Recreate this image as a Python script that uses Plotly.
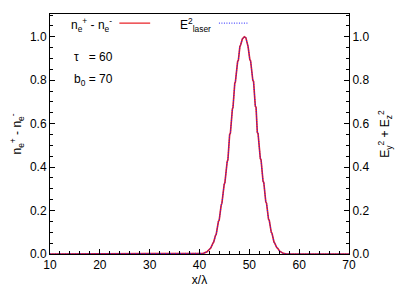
import plotly.graph_objects as go

# pulse profile (x in units of lambda)
x_vals = [10.0, 40.0, 40.8, 41.5, 42.1, 42.25, 42.7, 42.85, 43.2, 43.35, 43.8, 43.95,
          44.35, 44.5, 44.95, 45.1, 45.55, 45.7, 46.05, 46.2, 46.6, 46.72, 47.08, 47.2,
          47.65, 47.8, 48.1, 48.25, 48.6, 48.8, 49.0, 49.3, 49.6, 49.75, 50.1, 50.25,
          50.7, 50.85, 51.2, 51.35, 51.6, 51.75, 52.2, 52.35, 52.75, 52.9, 53.3, 53.45,
          53.85, 54.0, 54.4, 54.55, 54.95, 55.1, 55.5, 55.65, 56.1, 56.8, 57.5, 70.0]
n_diff = [0.0, 0.0, 0.003, 0.01, 0.025, 0.027, 0.05, 0.055, 0.085, 0.09, 0.15, 0.155,
          0.225, 0.234, 0.32, 0.329, 0.425, 0.434, 0.55, 0.557, 0.668, 0.674, 0.786, 0.792,
          0.886, 0.892, 0.955, 0.962, 0.99, 0.998, 1.0, 0.996, 0.962, 0.955, 0.895, 0.89,
          0.8, 0.794, 0.68, 0.675, 0.56, 0.555, 0.44, 0.434, 0.335, 0.329, 0.24, 0.234,
          0.16, 0.155, 0.1, 0.095, 0.055, 0.05, 0.03, 0.027, 0.013, 0.003, 0.0, 0.0]
e2_laser = list(n_diff)

x_ticks = [10, 20, 30, 40, 50, 60, 70]
y_ticks = [0.0, 0.2, 0.4, 0.6, 0.8, 1.0]
tau_text = "τ   = 60"
b0_text = "b<sub>0</sub> = 70"

FONT = "Liberation Sans, Arial, sans-serif"
DOT = "1px,1.5px"

fig = go.Figure()
fig.add_trace(go.Scatter(x=x_vals, y=n_diff, mode="lines",
                         line=dict(color="#e8191e", width=1.6), showlegend=False))
fig.add_trace(go.Scatter(x=x_vals, y=e2_laser, mode="lines", yaxis="y2",
                         line=dict(color="#2020ff", width=1, dash=DOT), showlegend=False))

axis_common = dict(ticks="inside", ticklen=5, tickwidth=1, tickcolor="black",
                   showgrid=False, zeroline=False, showline=True, linecolor="black",
                   linewidth=1, automargin=False,
                   tickfont=dict(family=FONT, size=12, color="black"))

# the page body adds an 8px offset, so the figure is 8px smaller than the window
fig.update_layout(
    width=407, height=283,
    margin=dict(l=42, r=66, t=6, b=37),
    paper_bgcolor="white", plot_bgcolor="white",
    font=dict(family=FONT, size=12, color="black"),
    xaxis=dict(range=[10, 70], tickvals=x_ticks, mirror=True,
               minor=dict(dtick=2, ticklen=3, ticks="inside", tickcolor="black"),
               title=dict(text="x/λ", font=dict(size=12), standoff=4),
               **axis_common),
    yaxis=dict(range=[0, 1.105], tickvals=y_ticks, tickformat=".1f",
               minor=dict(dtick=0.05, ticklen=3, ticks="inside", tickcolor="black"),
               title=dict(text="n<sub>e</sub><sup>+</sup> - n<sub>e</sub><sup>-</sup>",
                          font=dict(size=12), standoff=14),
               **axis_common),
    yaxis2=dict(range=[0, 1.105], tickvals=y_ticks, tickformat=".1f", overlaying="y",
                side="right",
                minor=dict(dtick=0.05, ticklen=3, ticks="inside", tickcolor="black"),
                title=dict(text="E<sub>y</sub><sup>2</sup> + E<sub>z</sub><sup>2</sup>",
                           font=dict(size=12), standoff=12),
                **axis_common),
)

# gnuplot-style key: text then line sample
fig.add_annotation(xref="paper", yref="paper", x=0.215, y=0.955, xanchor="right",
                   yanchor="middle", showarrow=False,
                   text="n<sub>e</sub><sup>+</sup> - n<sub>e</sub><sup>-</sup>",
                   font=dict(family=FONT, size=12))
fig.add_shape(type="line", xref="paper", yref="paper", x0=0.232, x1=0.335,
              y0=0.962, y1=0.962, line=dict(color="#e8191e", width=1.2))
fig.add_annotation(xref="paper", yref="paper", x=0.545, y=0.955, xanchor="right",
                   yanchor="middle", showarrow=False,
                   text="E<sup>2</sup><sub>laser</sub>",
                   font=dict(family=FONT, size=12))
fig.add_shape(type="line", xref="paper", yref="paper", x0=0.565, x1=0.665,
              y0=0.962, y1=0.962, line=dict(color="#2020ff", width=1, dash=DOT))

fig.add_annotation(xref="paper", yref="paper", x=0.075, y=0.82, xanchor="left",
                   yanchor="middle", showarrow=False, text=tau_text,
                   font=dict(family=FONT, size=12))
fig.add_annotation(xref="paper", yref="paper", x=0.075, y=0.725, xanchor="left",
                   yanchor="middle", showarrow=False, text=b0_text,
                   font=dict(family=FONT, size=12))

fig.write_html("out.html")
